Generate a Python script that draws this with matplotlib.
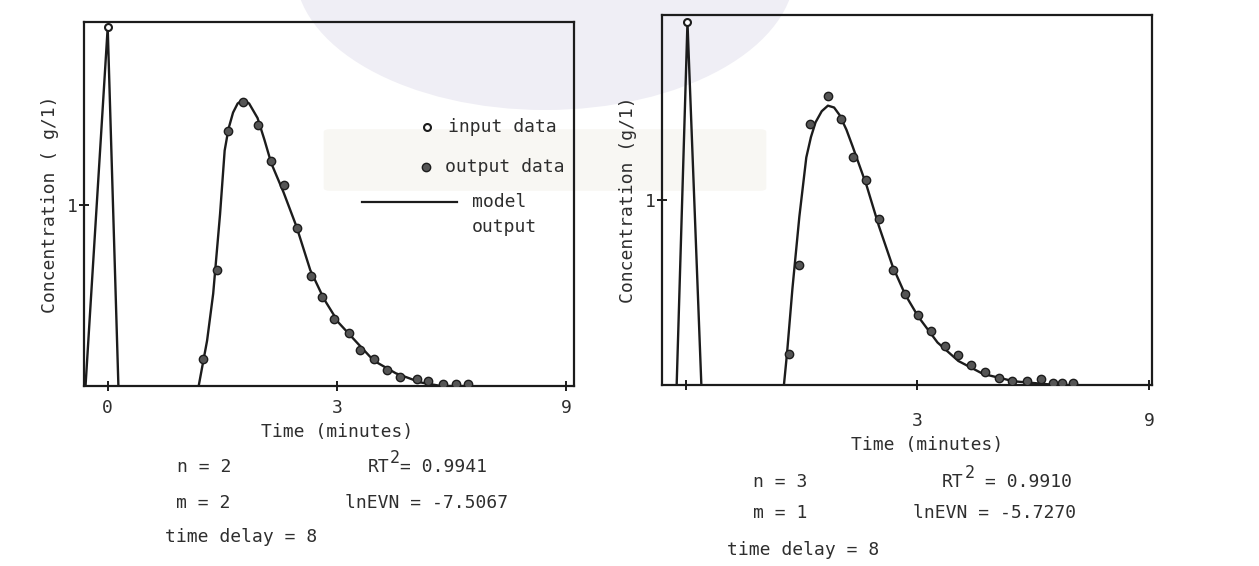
import matplotlib.pyplot as plt
from matplotlib.patches import Ellipse, FancyBboxPatch

plt.rcParams['font.family'] = 'DejaVu Sans Mono'

INK = '#1c1c1c'
TXT = '#2e2e2e'

# ---- run 1 (n = 2, m = 2) ----
in1_t = [-0.29, 0.0, 0.14]
in1_c = [0.0, 1.98, 0.0]
out1_t = [1.25, 1.43, 1.57, 1.77, 1.96, 2.13, 2.30, 2.48, 2.66, 2.80, 2.96,
          3.16, 3.30, 3.48, 3.66, 3.83, 4.04, 4.19, 4.38, 4.55, 4.71]
out1_c = [0.15, 0.64, 1.41, 1.57, 1.44, 1.24, 1.11, 0.87, 0.61, 0.49, 0.37,
          0.29, 0.20, 0.15, 0.09, 0.05, 0.04, 0.03, 0.01, 0.01, 0.01]
mod1_t = [1.19, 1.30, 1.38, 1.47, 1.53, 1.58, 1.64, 1.70, 1.77, 1.85, 1.96,
          2.05, 2.14, 2.30, 2.47, 2.65, 2.83, 3.02, 3.26, 3.48, 3.77, 4.09,
          4.36, 4.73]
mod1_c = [0.0, 0.25, 0.51, 0.95, 1.30, 1.42, 1.51, 1.56, 1.58, 1.56, 1.48,
          1.36, 1.23, 1.07, 0.88, 0.64, 0.48, 0.35, 0.24, 0.14, 0.07, 0.02,
          0.0, 0.0]

# ---- run 2 (n = 3, m = 1) ----
in2_t = [-0.12, 0.02, 0.20]
in2_c = [0.0, 1.96, 0.0]
out2_t = [1.34, 1.47, 1.61, 1.84, 2.01, 2.16, 2.34, 2.50, 2.68, 2.84, 3.01,
          3.17, 3.36, 3.53, 3.69, 3.88, 4.06, 4.23, 4.42, 4.60, 4.76, 4.88, 5.01]
out2_c = [0.17, 0.65, 1.41, 1.56, 1.44, 1.23, 1.11, 0.90, 0.62, 0.49, 0.38,
          0.29, 0.21, 0.16, 0.11, 0.07, 0.04, 0.02, 0.02, 0.03, 0.01, 0.01, 0.01]
mod2_t = [1.27, 1.31, 1.38, 1.47, 1.56, 1.62, 1.68, 1.76, 1.84, 1.92, 1.99,
          2.08, 2.16, 2.34, 2.50, 2.68, 2.84, 3.01, 3.26, 3.53, 3.85, 4.25,
          4.80, 5.08]
mod2_c = [0.0, 0.17, 0.52, 0.91, 1.23, 1.34, 1.42, 1.48, 1.51, 1.50, 1.46,
          1.38, 1.29, 1.08, 0.86, 0.64, 0.49, 0.37, 0.23, 0.13, 0.06, 0.02,
          0.0, 0.0]

x_ticks = [0, 3, 6]
x_labels_1 = ['0', '3', '9']
x_labels_2 = ['', '3', '9']

W, H = 1259, 566
fig = plt.figure(figsize=(W / 100, H / 100), dpi=100)


def px(x, y):
    return x / W, 1 - y / H


# faint background stamp
fig.patches.append(Ellipse(px(545, -30), 500 / W, 280 / H, transform=fig.transFigure,
                           facecolor='#efeef5', edgecolor='none', zorder=-2))
fig.patches.append(FancyBboxPatch(px(330, 188), 430 / W, 56 / H,
                                  boxstyle='round,pad=0.005', transform=fig.transFigure,
                                  facecolor='#f8f7f3', edgecolor='none', zorder=-1))


def panel(rect, xlim, ylim, in_t, in_c, out_t, out_c, mod_t, mod_c, xlabels, ylab, xpad):
    ax = fig.add_axes(rect)
    ax.patch.set_alpha(0)
    ax.plot(in_t, in_c, color=INK, lw=1.7, zorder=3)
    ax.plot(in_t[1], in_c[1], 'o', ms=5, mfc='white', mec=INK, mew=1.5, zorder=4)
    ax.plot(mod_t, mod_c, color=INK, lw=1.7, zorder=3)
    ax.plot(out_t, out_c, 'o', ms=6, mfc='#555555', mec=INK, mew=1.0, zorder=4)
    ax.set_xlim(*xlim)
    ax.set_ylim(*ylim)
    ax.set_xticks(x_ticks)
    ax.set_xticklabels(xlabels)
    ax.set_yticks([1])
    ax.set_yticklabels(['1'])
    ax.tick_params(direction='inout', length=7, width=1.4, colors=INK,
                   labelcolor=TXT, labelsize=13)
    ax.tick_params(axis='x', pad=xpad)
    ax.tick_params(axis='y', pad=1)
    for s in ax.spines.values():
        s.set_linewidth(1.6)
        s.set_color(INK)
    ax.set_ylabel(ylab, fontsize=13, color=TXT, labelpad=6)
    return ax


ax1 = panel([84 / W, 1 - 386 / H, 490 / W, 364 / H], (-0.31, 6.1), (0, 2.01),
            in1_t, in1_c, out1_t, out1_c, mod1_t, mod1_c, x_labels_1,
            'Concentration ( g/1)', 6)
ax2 = panel([662 / W, 1 - 385 / H, 490 / W, 370 / H], (-0.31, 6.04), (0, 2.0),
            in2_t, in2_c, out2_t, out2_c, mod2_t, mod2_c, x_labels_2,
            'Concentration (g/1)', 16)

# key inside the first panel
tr = ax1.transAxes
ax1.plot([0.701], [0.712], 'o', ms=5, mfc='white', mec=INK, mew=1.5, transform=tr)
ax1.text(0.743, 0.712, 'input data', transform=tr, va='center', fontsize=13, color=TXT)
ax1.plot([0.698], [0.602], 'o', ms=6, mfc='#555555', mec=INK, transform=tr)
ax1.text(0.737, 0.602, 'output data', transform=tr, va='center', fontsize=13, color=TXT)
ax1.plot([0.567, 0.761], [0.505, 0.505], color=INK, lw=1.6, transform=tr)
ax1.text(0.792, 0.505, 'model', transform=tr, va='center', fontsize=13, color=TXT)
ax1.text(0.792, 0.437, 'output', transform=tr, va='center', fontsize=13, color=TXT)

# captions under the panels
captions = [
    (337, 432, 'Time (minutes)', 'center'),
    (177, 467, 'n = 2', 'left'),
    (368, 467, 'RT', 'left'),
    (400, 467, '= 0.9941', 'left'),
    (176, 503, 'm = 2', 'left'),
    (345, 503, 'lnEVN = -7.5067', 'left'),
    (165, 537, 'time delay = 8', 'left'),
    (927, 445, 'Time (minutes)', 'center'),
    (753, 482, 'n = 3', 'left'),
    (942, 482, 'RT', 'left'),
    (985, 482, '= 0.9910', 'left'),
    (753, 513, 'm = 1', 'left'),
    (913, 513, 'lnEVN = -5.7270', 'left'),
    (727, 550, 'time delay = 8', 'left'),
]
for x, y, s, ha in captions:
    fx, fy = px(x, y)
    fig.text(fx, fy, s, ha=ha, va='center', fontsize=13, color=TXT)

# raised "2" of RT squared
for x, y in [(390, 458), (965, 473)]:
    fx, fy = px(x, y)
    fig.text(fx, fy, '2', ha='left', va='center', fontsize=12, color=TXT)

fig.savefig('out.png', dpi=100, facecolor='white')
